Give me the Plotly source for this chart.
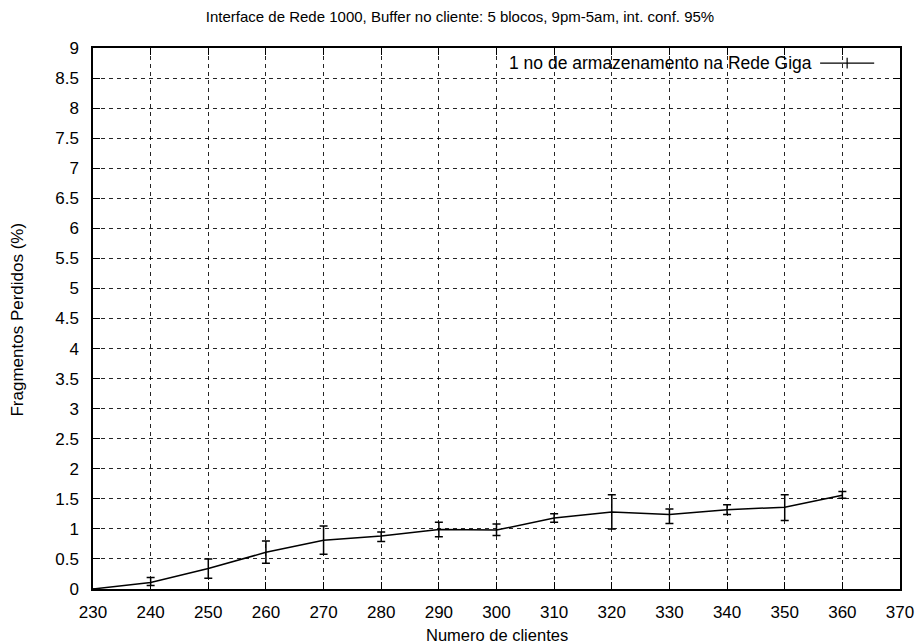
import plotly.graph_objects as go

# Numero de clientes vs. fragmentos perdidos (%), with 95% confidence bounds
clientes = [230, 240, 250, 260, 270, 280, 290, 300, 310, 320, 330, 340, 350, 360]
perdidos = [0.0, 0.11, 0.34, 0.61, 0.81, 0.88, 0.99, 0.98, 1.18, 1.28, 1.24, 1.32, 1.36, 1.56]
limite_sup = [0.0, 0.19, 0.50, 0.80, 1.05, 0.95, 1.11, 1.08, 1.25, 1.57, 1.33, 1.40, 1.57, 1.62]
limite_inf = [0.0, 0.06, 0.18, 0.43, 0.58, 0.79, 0.87, 0.89, 1.11, 1.00, 1.09, 1.24, 1.14, 1.51]

x_ticks = list(range(230, 371, 10))
y_ticks = [i * 0.5 for i in range(19)]
y_tick_text = [("%g" % v) for v in y_ticks]

serie_nome = "1 no de armazenamento na Rede Giga"
titulo = "Interface de Rede 1000, Buffer no cliente: 5 blocos, 9pm-5am, int. conf. 95%"
titulo_x = "Numero de clientes"
titulo_y = "Fragmentos Perdidos (%)"

err_plus = [s - v for s, v in zip(limite_sup, perdidos)]
err_minus = [v - i for v, i in zip(perdidos, limite_inf)]

FONT = "Liberation Sans, Arial, Helvetica, sans-serif"

fig = go.Figure()
fig.add_trace(go.Scatter(
    x=clientes, y=perdidos, mode="lines", name=serie_nome,
    line=dict(color="black", width=1.5),
    error_y=dict(type="data", symmetric=False, array=err_plus, arrayminus=err_minus,
                 color="black", thickness=1.5, width=4),
    showlegend=False,
))

# key: label on the left, sample line with a tick on the right
fig.add_annotation(xref="paper", yref="paper", x=0.893, y=0.972, xanchor="right",
                   yanchor="middle", text=serie_nome, showarrow=False,
                   font=dict(family=FONT, size=17.5, color="black"))
fig.add_shape(type="line", xref="paper", yref="paper", x0=0.901, x1=0.968,
              y0=0.972, y1=0.972, line=dict(color="black", width=1.2))
fig.add_shape(type="line", xref="paper", yref="paper", x0=0.9345, x1=0.9345,
              y0=0.962, y1=0.982, line=dict(color="black", width=1.2))

# axis titles
fig.add_annotation(xref="paper", yref="paper", x=0.5, y=-0.0845, xanchor="center",
                   yanchor="middle", text=titulo_x, showarrow=False,
                   font=dict(family=FONT, size=16.5, color="black"))
fig.add_annotation(xref="paper", yref="paper", x=-0.093, y=0.498, xanchor="center",
                   yanchor="middle", text=titulo_y, showarrow=False, textangle=-90,
                   font=dict(family=FONT, size=17, color="black"))

axis_common = dict(
    showline=True, linecolor="black", linewidth=1.5, mirror="ticks",
    ticks="inside", ticklen=7, tickcolor="black", tickwidth=1,
    showgrid=True, gridcolor="rgba(0,0,0,0.85)", gridwidth=1, griddash="4px,4px",
    zeroline=False, tickfont=dict(family=FONT, size=17, color="black"),
    automargin=False,
)

fig.update_xaxes(range=[230, 370], tickvals=x_ticks, ticklabelstandoff=7, **axis_common)
fig.update_yaxes(range=[0, 9], tickvals=y_ticks, ticktext=y_tick_text, ticklabelstandoff=9,
                 **axis_common)

fig.update_layout(
    width=920, height=643,
    margin=dict(l=93, r=20, t=48, b=54),
    paper_bgcolor="white", plot_bgcolor="white",
    title=dict(text=titulo, x=0.5, xanchor="center", y=0.974, yanchor="middle",
               font=dict(family=FONT, size=15, color="black")),
)

fig.write_html("out.html")
